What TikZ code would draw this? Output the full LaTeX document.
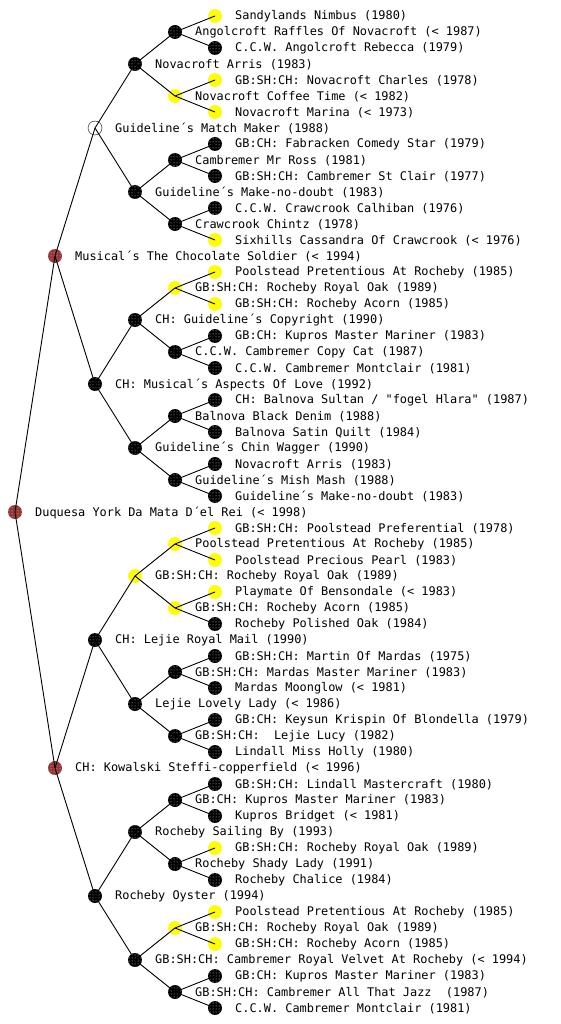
\documentclass[tikz,border=0pt]{standalone}
\usepackage{fontspec}
\setmonofont{DejaVu Sans Mono}
\usepackage{tikz}
\usetikzlibrary{patterns}
\definecolor{Choc}{RGB}{150,52,52}
\definecolor{LabYellow}{RGB}{255,255,0}
\tikzset{
  % Nodi del pedigree (colore del mantello)
  dog/.style={circle,minimum size=14,inner sep=0,outer sep=0,
    postaction={pattern=dots,pattern color=white!85!black}},
  dog black/.style={dog,fill=black},
  dog yellow/.style={dog,fill=LabYellow},
  dog choc/.style={dog,fill=Choc},
  dog unknown/.style={circle,draw=black,minimum size=14,inner sep=0,outer sep=0},
  % Etichette
  dogname/.style={font=\ttfamily\fontsize{11.9}{14}\selectfont,inner sep=0,anchor=west,xshift=13pt,yshift=-0.5pt},
  lbl/.style={label={[dogname]0:{#1}}},
  % Collegamenti
  link/.style={black,line width=0.9}
}
\begin{document}
\begin{tikzpicture}[x=1pt,y=-1pt]
  \useasboundingbox (0,0) rectangle (560,1024);
  % generazione 0-1
  \node[dog choc,lbl={Duquesa York Da Mata D´el Rei (< 1998)}] (o) at (15,512) {};
  \node[dog choc,lbl={Musical´s The Chocolate Soldier (< 1994)}] (os) at (55,256) {};
  \node[dog choc,lbl={CH: Kowalski Steffi-copperfield (< 1996)}] (od) at (55,768) {};
  % generazione 2
  \node[dog unknown,lbl={Guideline´s Match Maker (1988)}] (oss) at (95,128) {};
  \node[dog black,lbl={CH: Musical´s Aspects Of Love (1992)}] (osd) at (95,384) {};
  \node[dog black,lbl={CH: Lejie Royal Mail (1990)}] (ods) at (95,640) {};
  \node[dog black,lbl={Rocheby Oyster (1994)}] (odd) at (95,896) {};
  % generazione 3
  \node[dog black,lbl={Novacroft Arris (1983)}] (osss) at (135,64) {};
  \node[dog black,lbl={Guideline´s Make-no-doubt (1983)}] (ossd) at (135,192) {};
  \node[dog black,lbl={CH: Guideline´s Copyright (1990)}] (osds) at (135,320) {};
  \node[dog black,lbl={Guideline´s Chin Wagger (1990)}] (osdd) at (135,448) {};
  \node[dog yellow,lbl={GB:SH:CH: Rocheby Royal Oak (1989)}] (odss) at (135,576) {};
  \node[dog black,lbl={Lejie Lovely Lady (< 1986)}] (odsd) at (135,704) {};
  \node[dog black,lbl={Rocheby Sailing By (1993)}] (odds) at (135,832) {};
  \node[dog black,lbl={GB:SH:CH: Cambremer Royal Velvet At Rocheby (< 1994)}] (oddd) at (135,960) {};
  % generazione 4
  \node[dog black,lbl={Angolcroft Raffles Of Novacroft (< 1987)}] (ossss) at (175,32) {};
  \node[dog yellow,lbl={Novacroft Coffee Time (< 1982)}] (osssd) at (175,96) {};
  \node[dog black,lbl={Cambremer Mr Ross (1981)}] (ossds) at (175,160) {};
  \node[dog black,lbl={Crawcrook Chintz (1978)}] (ossdd) at (175,224) {};
  \node[dog yellow,lbl={GB:SH:CH: Rocheby Royal Oak (1989)}] (osdss) at (175,288) {};
  \node[dog black,lbl={C.C.W. Cambremer Copy Cat (1987)}] (osdsd) at (175,352) {};
  \node[dog black,lbl={Balnova Black Denim (1988)}] (osdds) at (175,416) {};
  \node[dog black,lbl={Guideline´s Mish Mash (1988)}] (osddd) at (175,480) {};
  \node[dog yellow,lbl={Poolstead Pretentious At Rocheby (1985)}] (odsss) at (175,544) {};
  \node[dog yellow,lbl={GB:SH:CH: Rocheby Acorn (1985)}] (odssd) at (175,608) {};
  \node[dog black,lbl={GB:SH:CH: Mardas Master Mariner (1983)}] (odsds) at (175,672) {};
  \node[dog black,lbl={GB:SH:CH:~ Lejie Lucy (1982)}] (odsdd) at (175,736) {};
  \node[dog black,lbl={GB:CH: Kupros Master Mariner (1983)}] (oddss) at (175,800) {};
  \node[dog black,lbl={Rocheby Shady Lady (1991)}] (oddsd) at (175,864) {};
  \node[dog yellow,lbl={GB:SH:CH: Rocheby Royal Oak (1989)}] (oddds) at (175,928) {};
  \node[dog black,lbl={GB:SH:CH: Cambremer All That Jazz~ (1987)}] (odddd) at (175,992) {};
  % generazione 5
  \node[dog yellow,lbl={Sandylands Nimbus (1980)}] (osssss) at (215,16) {};
  \node[dog black,lbl={C.C.W. Angolcroft Rebecca (1979)}] (ossssd) at (215,48) {};
  \node[dog yellow,lbl={GB:SH:CH: Novacroft Charles (1978)}] (osssds) at (215,80) {};
  \node[dog yellow,lbl={Novacroft Marina (< 1973)}] (osssdd) at (215,112) {};
  \node[dog black,lbl={GB:CH: Fabracken Comedy Star (1979)}] (ossdss) at (215,144) {};
  \node[dog black,lbl={GB:SH:CH: Cambremer St Clair (1977)}] (ossdsd) at (215,176) {};
  \node[dog black,lbl={C.C.W. Crawcrook Calhiban (1976)}] (ossdds) at (215,208) {};
  \node[dog yellow,lbl={Sixhills Cassandra Of Crawcrook (< 1976)}] (ossddd) at (215,240) {};
  \node[dog yellow,lbl={Poolstead Pretentious At Rocheby (1985)}] (osdsss) at (215,272) {};
  \node[dog yellow,lbl={GB:SH:CH: Rocheby Acorn (1985)}] (osdssd) at (215,304) {};
  \node[dog black,lbl={GB:CH: Kupros Master Mariner (1983)}] (osdsds) at (215,336) {};
  \node[dog black,lbl={C.C.W. Cambremer Montclair (1981)}] (osdsdd) at (215,368) {};
  \node[dog black,lbl={CH: Balnova Sultan / "fogel Hlara" (1987)}] (osddss) at (215,400) {};
  \node[dog black,lbl={Balnova Satin Quilt (1984)}] (osddsd) at (215,432) {};
  \node[dog black,lbl={Novacroft Arris (1983)}] (osddds) at (215,464) {};
  \node[dog black,lbl={Guideline´s Make-no-doubt (1983)}] (osdddd) at (215,496) {};
  \node[dog yellow,lbl={GB:SH:CH: Poolstead Preferential (1978)}] (odssss) at (215,528) {};
  \node[dog yellow,lbl={Poolstead Precious Pearl (1983)}] (odsssd) at (215,560) {};
  \node[dog yellow,lbl={Playmate Of Bensondale (< 1983)}] (odssds) at (215,592) {};
  \node[dog black,lbl={Rocheby Polished Oak (1984)}] (odssdd) at (215,624) {};
  \node[dog black,lbl={GB:SH:CH: Martin Of Mardas (1975)}] (odsdss) at (215,656) {};
  \node[dog black,lbl={Mardas Moonglow (< 1981)}] (odsdsd) at (215,688) {};
  \node[dog black,lbl={GB:CH: Keysun Krispin Of Blondella (1979)}] (odsdds) at (215,720) {};
  \node[dog black,lbl={Lindall Miss Holly (1980)}] (odsddd) at (215,752) {};
  \node[dog black,lbl={GB:SH:CH: Lindall Mastercraft (1980)}] (oddsss) at (215,784) {};
  \node[dog black,lbl={Kupros Bridget (< 1981)}] (oddssd) at (215,816) {};
  \node[dog yellow,lbl={GB:SH:CH: Rocheby Royal Oak (1989)}] (oddsds) at (215,848) {};
  \node[dog black,lbl={Rocheby Chalice (1984)}] (oddsdd) at (215,880) {};
  \node[dog yellow,lbl={Poolstead Pretentious At Rocheby (1985)}] (odddss) at (215,912) {};
  \node[dog yellow,lbl={GB:SH:CH: Rocheby Acorn (1985)}] (odddsd) at (215,944) {};
  \node[dog black,lbl={GB:CH: Kupros Master Mariner (1983)}] (odddds) at (215,976) {};
  \node[dog black,lbl={C.C.W. Cambremer Montclair (1981)}] (oddddd) at (215,1008) {};
  % collegamenti genitore -> padre / madre
  \foreach \p in {o,os,od,oss,osd,ods,odd,osss,ossd,osds,osdd,odss,odsd,odds,oddd,
      ossss,osssd,ossds,ossdd,osdss,osdsd,osdds,osddd,odsss,odssd,odsds,odsdd,oddss,oddsd,oddds,odddd}
    \draw[link] (\p.center) -- (\p s.center) (\p.center) -- (\p d.center);
\end{tikzpicture}
\end{document}
